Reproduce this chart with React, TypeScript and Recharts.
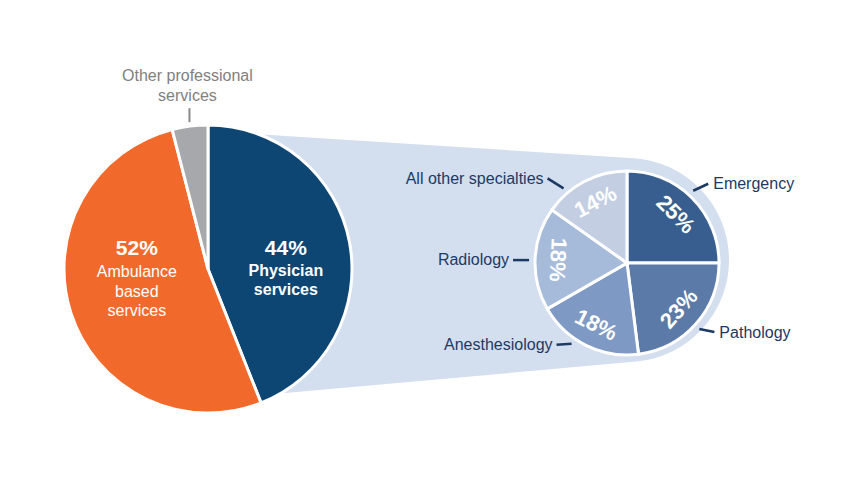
import React from "react";
import { PieChart, Pie, Cell } from "recharts";

// big pie: share of spending
const mainNames = ["Physician services", "Ambulance based services", "Other professional services"];
const mainValues = [44, 52, 4];
const mainLabelLines = [
  ["Physician", "services"],
  ["Ambulance", "based", "services"],
  ["Other professional", "services"],
];

// breakdown of physician services
const specialtyNames = ["Emergency", "Pathology", "Anesthesiology", "Radiology", "All other specialties"];
// slice sizes as drawn in the picture
const specialtyShares = [25, 23, 18.7, 18.1, 15.2];
// percentages printed on the slices
const specialtyLabels = [25, 23, 18, 18, 14];

const mainData = mainNames.map((name, i) => ({ name, value: mainValues[i], lines: mainLabelLines[i] }));
const specialtyData = specialtyNames.map((name, i) => ({
  name,
  value: specialtyShares[i],
  label: specialtyLabels[i],
}));

const W = 850;
const H = 502;
const FONT = '"Liberation Sans", Arial, sans-serif';
const NAVY = "#1d3a63";

const BIG = { cx: 208, cy: 269, r: 144 };
const SMALL = { cx: 627, cy: 263, r: 92 };
const BAND = { cx: SMALL.cx, cy: SMALL.cy - 3, r: 102 };

const mainColors = ["#0d4673", "#f26a2b", "#a6a8ab"];
const specialtyColors = ["#375e8e", "#5b7aa7", "#7e99c3", "#a6bbd9", "#c4cee3"];

const RAD = Math.PI / 180;
// angle measured clockwise from 12 o'clock
const polar = (cx: number, cy: number, r: number, deg: number) => ({
  x: cx + r * Math.sin(deg * RAD),
  y: cy - r * Math.cos(deg * RAD),
});

// middle angle of each slice, clockwise from the top
const midAngles = (values: number[]) => {
  const total = values.reduce((a, b) => a + b, 0);
  let acc = 0;
  return values.map((v) => {
    const m = ((acc + v / 2) / total) * 360;
    acc += v;
    return m;
  });
};
const mainMids = midAngles(mainValues);
const specialtyMids = midAngles(specialtyShares);

const mainLabelStyle: Record<string, any> = {
  "Physician services": { dx: -7, dy: -5, bold: true, gap: 23, step: 19 },
  "Ambulance based services": { dx: 11, dy: -48, bold: false, gap: 24, step: 19.5 },
};

const leaderStyle: Record<string, any> = {
  Emergency: { shift: -2.5, dx: 15, dy: -7, ty: 0 },
  Pathology: { shift: 1, dx: 15, dy: 3, ty: 0 },
  Anesthesiology: { shift: 8, dx: -15, dy: 1, ty: 0 },
  Radiology: { shift: -1, dx: -16, dy: 0, ty: -1 },
  "All other specialties": { shift: -13, dx: -16, dy: -10, ty: 0 },
};

const renderMainLabel = (props: any) => {
  const { index } = props;
  const entry = mainData[index];
  const angle = mainMids[index];
  if (entry.name === "Other professional services") {
    const p = polar(BIG.cx, BIG.cy, BIG.r + 4, angle);
    return (
      <g key={entry.name}>
        <line x1={p.x} y1={p.y} x2={p.x} y2={p.y - 14} stroke="#8a8a8a" strokeWidth={2} />
        {entry.lines.map((t: string, i: number) => (
          <text
            key={t}
            x={p.x - 2}
            y={p.y - 47 + i * 20}
            textAnchor="middle"
            dominantBaseline="central"
            fill="#808080"
            fontSize={16}
            fontFamily={FONT}
          >
            {t}
          </text>
        ))}
      </g>
    );
  }
  const s = mainLabelStyle[entry.name];
  const a = polar(BIG.cx, BIG.cy, BIG.r * 0.6, angle);
  const x = a.x + s.dx;
  const y = a.y + s.dy;
  return (
    <g key={entry.name}>
      <text x={x} y={y} textAnchor="middle" dominantBaseline="central" fill="#fff" fontSize={21} fontWeight="bold" fontFamily={FONT}>
        {`${entry.value}%`}
      </text>
      {entry.lines.map((t: string, i: number) => (
        <text
          key={t}
          x={x}
          y={y + s.gap + i * s.step}
          textAnchor="middle"
          dominantBaseline="central"
          fill="#fff"
          fontSize={16}
          fontWeight={s.bold ? "bold" : "normal"}
          fontFamily={FONT}
        >
          {t}
        </text>
      ))}
    </g>
  );
};

const renderSpecialtyLabel = (props: any) => {
  const { index } = props;
  const entry = specialtyData[index];
  const angle = specialtyMids[index];
  const inner = polar(SMALL.cx, SMALL.cy, SMALL.r * 0.75, angle);
  // text runs along the circle, flipped on the lower-left half so it stays readable
  let rot = angle;
  if (angle > 90 && angle <= 285) rot = angle - 180;
  else if (angle > 285) rot = angle - 360;
  const ls = leaderStyle[entry.name];
  const p0 = polar(SMALL.cx, SMALL.cy, SMALL.r + 6, angle + ls.shift);
  const p1 = { x: p0.x + ls.dx, y: p0.y + ls.dy };
  const right = ls.dx > 0;
  return (
    <g key={entry.name}>
      <text
        x={inner.x}
        y={inner.y}
        transform={`rotate(${rot} ${inner.x} ${inner.y})`}
        textAnchor="middle"
        dominantBaseline="central"
        fill="#fff"
        fontSize={22}
        fontWeight="bold"
        fontFamily={FONT}
      >
        {`${entry.label}%`}
      </text>
      <line x1={p0.x} y1={p0.y} x2={p1.x} y2={p1.y} stroke={NAVY} strokeWidth={2.5} />
      <text
        x={p1.x + (right ? 5 : -4)}
        y={p1.y + ls.ty}
        textAnchor={right ? "start" : "end"}
        dominantBaseline="central"
        fill={NAVY}
        fontSize={16}
        fontFamily={FONT}
      >
        {entry.name}
      </text>
    </g>
  );
};

// tangent point from an outside point onto a circle
function tangent(px: number, py: number, c: { cx: number; cy: number; r: number }, side: number) {
  const dx = px - c.cx;
  const dy = py - c.cy;
  const d = Math.hypot(dx, dy);
  const a = Math.atan2(dy, dx) + side * Math.acos(c.r / d);
  return { x: c.cx + c.r * Math.cos(a), y: c.cy + c.r * Math.sin(a) };
}

const bandPath = () => {
  const p1 = { x: BIG.cx, y: BIG.cy - 138 };
  const p2 = { x: BIG.cx, y: BIG.cy + 131 };
  const t1 = tangent(p1.x, p1.y, BAND, 1);
  const t2 = tangent(p2.x, p2.y, BAND, -1);
  return `M${p1.x},${p1.y} L${t1.x},${t1.y} A${BAND.r},${BAND.r} 0 0 1 ${t2.x},${t2.y} L${p2.x},${p2.y} Z`;
};

export default function App() {
  return (
    <div style={{ position: "absolute", left: 0, top: 0, width: W, height: H, background: "#fff" }}>
      <svg width={W} height={H} style={{ position: "absolute", left: 0, top: 0 }}>
        <path d={bandPath()} fill="#d3deef" />
      </svg>
      <div style={{ position: "absolute", left: 0, top: 0 }}>
        <PieChart width={W} height={H} margin={{ top: 0, right: 0, bottom: 0, left: 0 }}>
          <Pie
            data={mainData}
            dataKey="value"
            nameKey="name"
            cx={BIG.cx}
            cy={BIG.cy}
            outerRadius={BIG.r}
            startAngle={90}
            endAngle={-270}
            stroke="#fff"
            strokeWidth={3}
            label={renderMainLabel}
            labelLine={false}
            isAnimationActive={false}
          >
            {mainData.map((d, i) => (
              <Cell key={d.name} fill={mainColors[i]} />
            ))}
          </Pie>
          <Pie
            data={specialtyData}
            dataKey="value"
            nameKey="name"
            cx={SMALL.cx}
            cy={SMALL.cy}
            outerRadius={SMALL.r}
            startAngle={90}
            endAngle={-270}
            stroke="#fff"
            strokeWidth={3}
            label={renderSpecialtyLabel}
            labelLine={false}
            isAnimationActive={false}
          >
            {specialtyData.map((d, i) => (
              <Cell key={d.name} fill={specialtyColors[i]} />
            ))}
          </Pie>
        </PieChart>
      </div>
    </div>
  );
}
